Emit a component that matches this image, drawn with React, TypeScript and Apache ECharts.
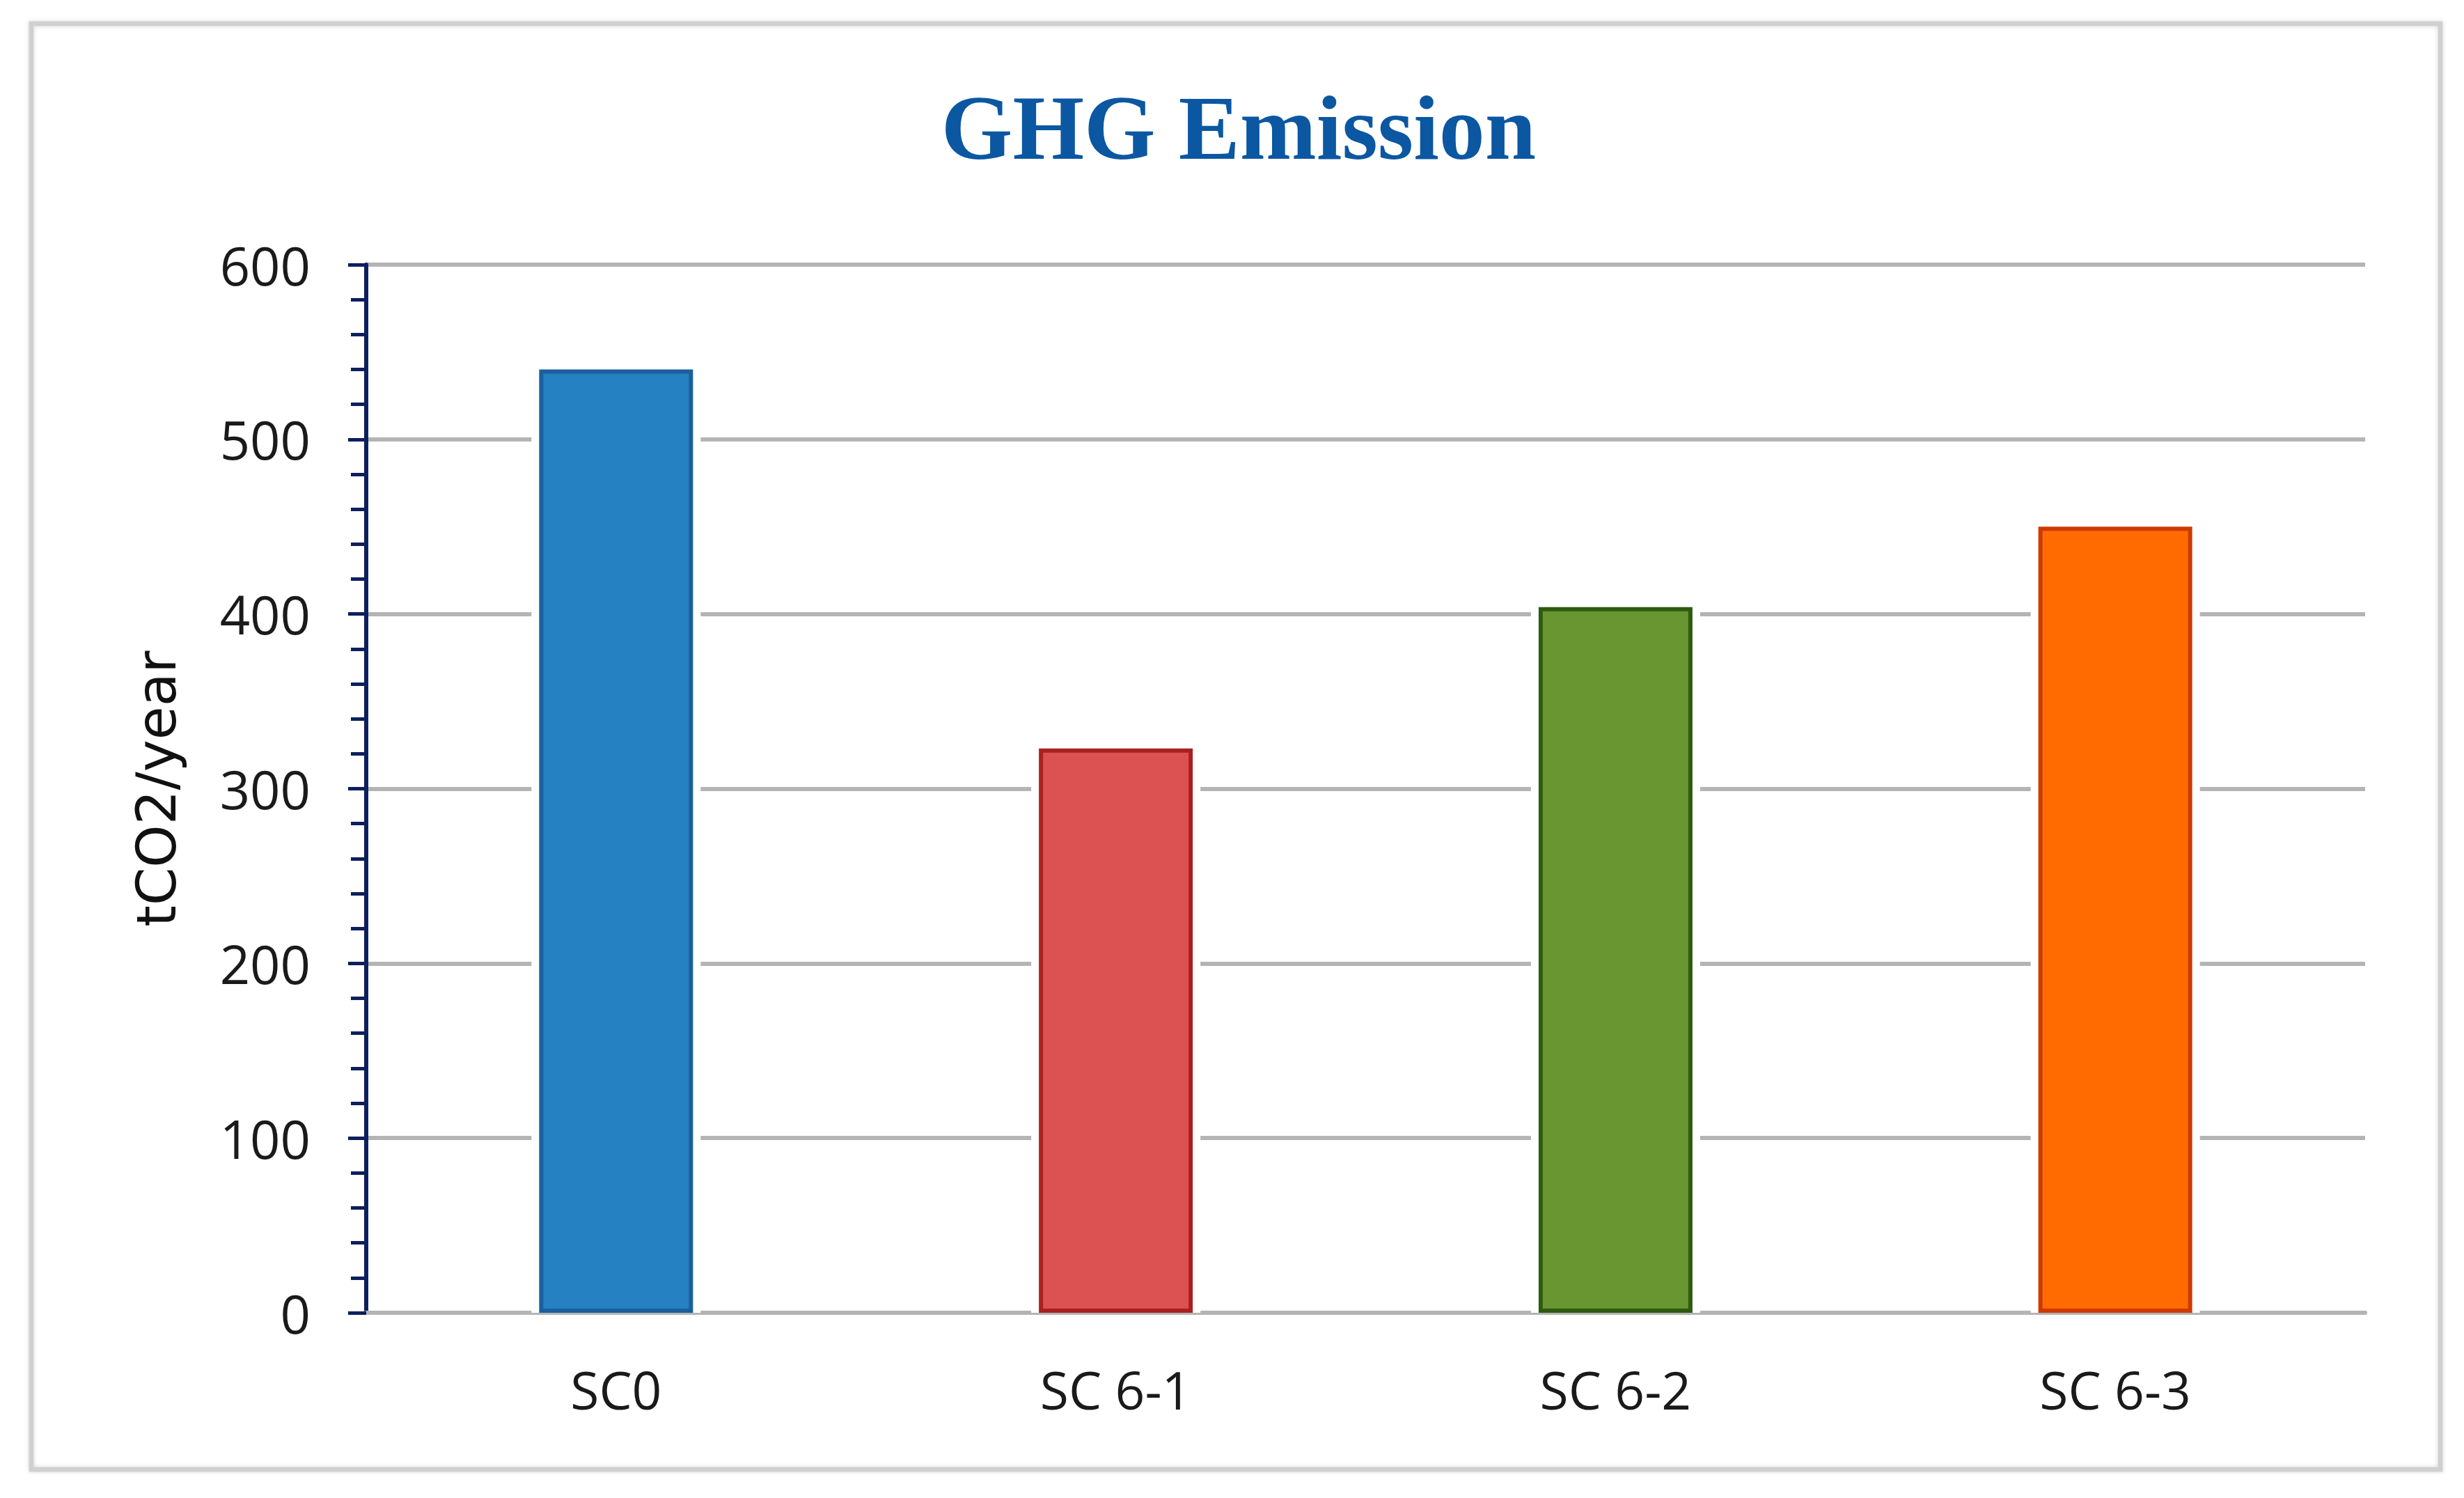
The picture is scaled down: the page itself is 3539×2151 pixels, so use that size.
import { useEffect, useRef } from "react";
import * as echarts from "echarts";

const categories = ["SC0", "SC 6-1", "SC 6-2", "SC 6-3"];
const emissions = [540, 323, 404, 450];
const barColors = ["#2581c2", "#dc5151", "#6a9632", "#ff6b00"];
const barBorders = ["#1b5f9c", "#a82020", "#2f5a12", "#cc3a00"];

export default function App() {
  const chartRef = useRef<HTMLDivElement>(null);

  useEffect(() => {
    if (!chartRef.current) return;
    const chart = echarts.init(chartRef.current, undefined, { renderer: "svg" });

    const option = {
      animation: false,
      backgroundColor: "#ffffff",
      title: {
        text: "GHG Emission",
        left: 1774,
        top: 112,
        textAlign: "center",
        textStyle: {
          fontFamily: "Liberation Serif",
          fontWeight: "bold",
          fontSize: 132,
          color: "#0b57a2",
        },
      },
      graphic: [
        {
          type: "rect",
          shape: { x: 45, y: 34, width: 3460, height: 2076 },
          style: {
            fill: "none",
            stroke: "#d0d0d0",
            lineWidth: 7,
            shadowBlur: 6,
            shadowColor: "rgba(0,0,0,0.15)",
          },
          silent: true,
        },
      ],
      grid: { left: 526, right: 142, top: 380, bottom: 266 },
      xAxis: [
        {
          type: "category",
          data: categories,
          axisLine: { show: true, lineStyle: { color: "#b4b4b4", width: 6 } },
          axisTick: { show: false },
          axisLabel: {
            margin: 72,
            fontFamily: "Open Sans",
            fontSize: 75,
            color: "#1a1a1a",
          },
        },
        {
          // hidden twin axis, only used to centre the white halo bars
          type: "category",
          data: categories,
          show: false,
        },
      ],
      yAxis: {
        type: "value",
        min: 0,
        max: 600,
        interval: 100,
        name: "tCO2/year",
        nameLocation: "middle",
        nameRotate: 90,
        nameGap: 262,
        nameTextStyle: {
          fontFamily: "DejaVu Sans",
          fontSize: 78,
          color: "#111111",
        },
        axisLine: { show: true, lineStyle: { color: "#0d1f5c", width: 6 } },
        axisTick: { show: true, length: 26, lineStyle: { color: "#0d1f5c", width: 5 } },
        minorTick: {
          show: true,
          splitNumber: 5,
          length: 22,
          lineStyle: { color: "#0d1f5c", width: 5 },
        },
        axisLabel: {
          margin: 80,
          fontFamily: "Open Sans",
          fontSize: 76,
          color: "#1a1a1a",
        },
        splitLine: { show: true, lineStyle: { color: "#b4b4b4", width: 6 } },
      },
      series: [
        {
          // white halo that interrupts the gridlines around each bar
          type: "bar",
          xAxisIndex: 1,
          barWidth: 243,
          silent: true,
          data: emissions,
          itemStyle: { color: "#ffffff" },
          z: 1,
        },
        {
          type: "bar",
          xAxisIndex: 0,
          barWidth: 221,
          z: 3,
          data: emissions.map((v, i) => ({
            value: v,
            itemStyle: {
              color: barColors[i],
              borderColor: barBorders[i],
              borderWidth: 6,
            },
          })),
        },
      ],
    };

    chart.setOption(option);

    const handleResize = () => chart.resize();
    window.addEventListener("resize", handleResize);
    return () => {
      window.removeEventListener("resize", handleResize);
      chart.dispose();
    };
  }, []);

  return (
    <div
      ref={chartRef}
      style={{ position: "fixed", left: 0, top: 0, width: "3539px", height: "2151px" }}
    ></div>
  );
}
